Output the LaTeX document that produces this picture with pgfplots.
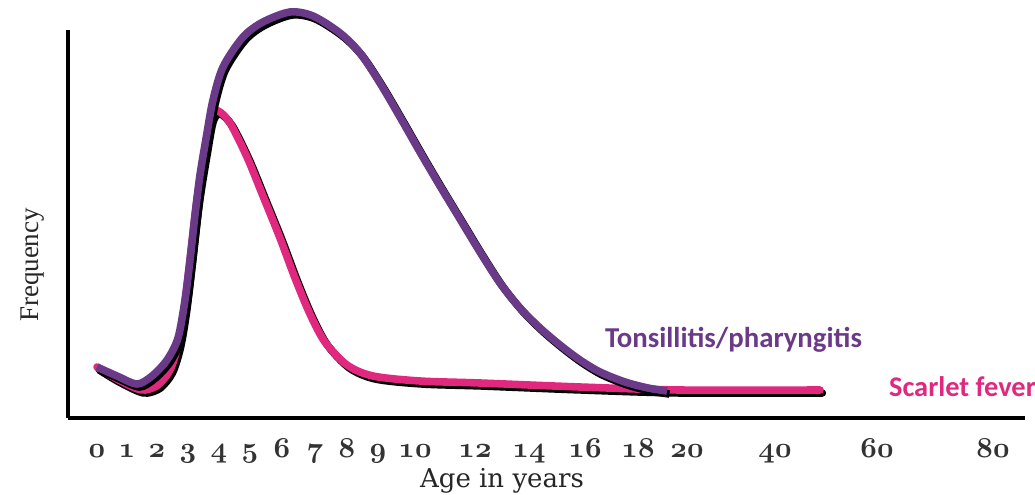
\documentclass[border=0pt]{standalone}
\usepackage{fontspec}
\usepackage{pgfplots}
\pgfplotsset{compat=1.18}
\newfontfamily\carlito{Carlito}
\newfontfamily\dvserif{DejaVu Serif}
\newfontfamily\libserif{Liberation Serif}
\definecolor{tonsil}{HTML}{6A3A88}
\definecolor{scarlet}{HTML}{E0287E}
\newcommand\osn[1]{$\mathnormal{#1}$}
\pgfplotstableread{
x y
97 51
115 40
135 30
145 28
158 33
170 48
178 73
184 108
190 158
197 218
205 268
211 300
218 307
230 295
247 261
263 222
280 180
295 140
310 104
325 76
347 53
373 42
420 37
480 35
580 31
680 28
820 28
}\scarlettab
\pgfplotstableread{
x y
97 51
117 42
137 34
152 42
167 58
178 80
185 118
190 158
195 203
200 243
207 285
213 318
223 351
243 381
263 396
290 406
313 402
340 385
360 365
380 335
400 301
420 266
440 232
460 199
480 166
500 135
520 110
540 90
560 73
580 58
600 46
625 36
648 30
667 27
}\tonsiltab
\begin{document}
\begin{tikzpicture}
\begin{axis}[
  scale only axis,
  x=0.5pt, y=0.5pt,
  xmin=68, xmax=1025, ymin=0, ymax=388,
  enlargelimits=false,
  clip=false,
  axis x line=bottom, axis y line=left,
  axis line style={line width=2.2pt, black, -},
  ytick=\empty,
  xtick={97,127,157,188,219,250,282,315,347,378,415,475,529,585,638,687,775,877,993},
  xticklabels={\osn{0},\osn{1},\osn{2},\osn{3},\osn{4},\osn{5},\osn{6},\osn{7},\osn{8},\osn{9},\osn{10},\osn{12},\osn{14},\osn{16},\osn{18},\osn{20},\osn{40},\osn{60},\osn{80}},
  major tick length=0pt,
  xticklabel style={anchor=base, yshift=-19.5pt, font=\boldmath\fontsize{14}{16}\selectfont, text=black!80},
]
\coordinate (BL) at (axis cs:0,-76);
\coordinate (TR) at (axis cs:1035,418);
% Scarlet fever
\addplot[black, line width=3.8pt, smooth, xshift=1.2pt, yshift=-1.5pt, line cap=round] table {\scarlettab};
\addplot[scarlet, line width=3.8pt, smooth, line cap=round] table {\scarlettab};
% Tonsillitis
\addplot[black, line width=3.8pt, smooth, xshift=1.2pt, yshift=-1.5pt] table {\tonsiltab};
\addplot[tonsil, line width=3.8pt, smooth] table {\tonsiltab};
\node[font=\carlito\bfseries\fontsize{14.4}{16}\selectfont, text=tonsil, anchor=west] at (axis cs:598,78) {Tonsillitis/pharyngitis};
\node[font=\carlito\bfseries\fontsize{14.2}{16}\selectfont, text=scarlet, anchor=west] at (axis cs:882,31) {Scarlet fever};
\node[font=\dvserif\fontsize{13}{15}\selectfont, text=black!85] at (axis cs:502,-63) {Age in years};
\node[font=\libserif\fontsize{13.5}{15}\selectfont, text=black!85, rotate=90] at (axis cs:33,153) {Frequency};
\end{axis}
\pgfresetboundingbox
\path[use as bounding box] (BL) rectangle (TR);
\end{tikzpicture}
\end{document}
